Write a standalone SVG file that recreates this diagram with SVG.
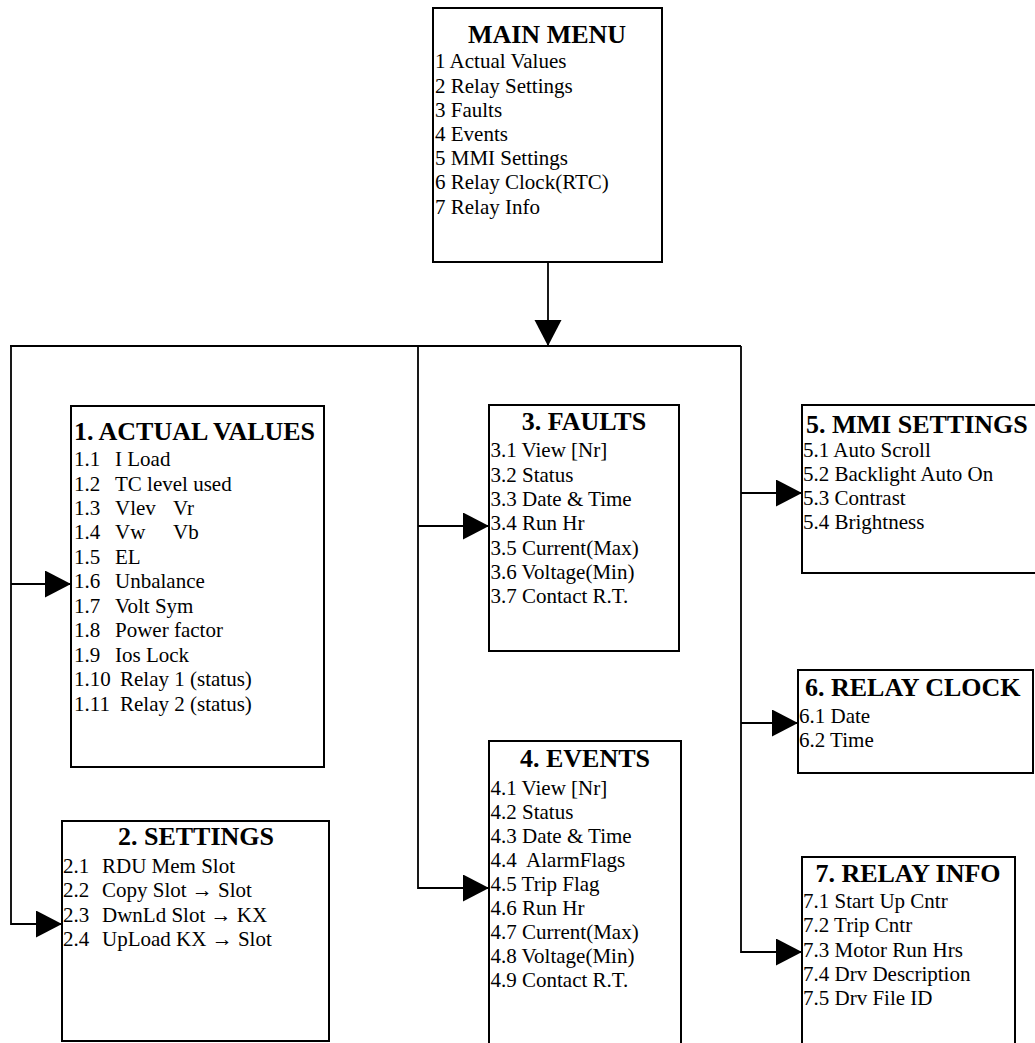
<svg xmlns="http://www.w3.org/2000/svg" width="1035" height="1043" viewBox="0 0 1035 1043">
<style>
.box{fill:#fff;stroke:#000;stroke-width:2}
.ln{fill:none;stroke:#000;stroke-width:1.8}
.t{font-family:"Liberation Serif","Times New Roman",serif;font-weight:bold;font-size:26px;fill:#000}
.i{font-family:"Liberation Serif","Times New Roman",serif;font-size:21px;fill:#000}
</style>
<defs>
<marker id="ah" markerUnits="userSpaceOnUse" markerWidth="27" markerHeight="28" refX="26" refY="13.5" orient="auto">
<path d="M0,0 L26,13.5 L0,27 Z" fill="#000"/>
</marker>
</defs>
<g id="connectors">
<path class="ln" d="M548,262 V346" marker-end="url(#ah)"/>
<path class="ln" d="M10,346 H741"/>
<path class="ln" d="M11,346 V924 H62" marker-end="url(#ah)"/>
<path class="ln" d="M11,584 H71" marker-end="url(#ah)"/>
<path class="ln" d="M418,346 V888 H489" marker-end="url(#ah)"/>
<path class="ln" d="M418,526 H489" marker-end="url(#ah)"/>
<path class="ln" d="M741,346 V952 H802" marker-end="url(#ah)"/>
<path class="ln" d="M741,493 H802" marker-end="url(#ah)"/>
<path class="ln" d="M741,723 H798" marker-end="url(#ah)"/>
</g>
<g id="main-menu">
<rect class="box" x="433" y="8" width="229" height="254"/>
<text class="t" x="547" y="43" text-anchor="middle">MAIN MENU</text>
<text class="i" x="435" y="68">1 Actual Values</text>
<text class="i" x="435" y="92.5">2 Relay Settings</text>
<text class="i" x="435" y="116.7">3 Faults</text>
<text class="i" x="435" y="141">4 Events</text>
<text class="i" x="435" y="165">5 MMI Settings</text>
<text class="i" x="435" y="189.3">6 Relay Clock(RTC)</text>
<text class="i" x="435" y="213.5">7 Relay Info</text>
</g>
<g id="actual-values">
<rect class="box" x="71" y="406" width="253" height="361"/>
<text class="t" x="74" y="440">1. ACTUAL VALUES</text>
<text class="i" x="74" y="466">1.1<tspan x="115">I Load</tspan></text>
<text class="i" x="74" y="490.5">1.2<tspan x="115">TC level used</tspan></text>
<text class="i" x="74" y="515">1.3<tspan x="115">Vlev</tspan><tspan x="173">Vr</tspan></text>
<text class="i" x="74" y="539.3">1.4<tspan x="115">Vw</tspan><tspan x="173">Vb</tspan></text>
<text class="i" x="74" y="563.5">1.5<tspan x="115">EL</tspan></text>
<text class="i" x="74" y="588">1.6<tspan x="115">Unbalance</tspan></text>
<text class="i" x="74" y="612.5">1.7<tspan x="115">Volt Sym</tspan></text>
<text class="i" x="74" y="637">1.8<tspan x="115">Power factor</tspan></text>
<text class="i" x="74" y="661.5">1.9<tspan x="115">Ios Lock</tspan></text>
<text class="i" x="74" y="686">1.10<tspan x="120">Relay 1 (status)</tspan></text>
<text class="i" x="74" y="710.5">1.11<tspan x="120">Relay 2 (status)</tspan></text>
</g>
<g id="settings">
<rect class="box" x="62" y="821" width="267" height="220"/>
<text class="t" x="196" y="845" text-anchor="middle">2. SETTINGS</text>
<text class="i" x="63" y="872.5">2.1<tspan x="102">RDU Mem Slot</tspan></text>
<text class="i" x="63" y="897">2.2<tspan x="102">Copy Slot → Slot</tspan></text>
<text class="i" x="63" y="921.5">2.3<tspan x="102">DwnLd Slot → KX</tspan></text>
<text class="i" x="63" y="945.7">2.4<tspan x="102">UpLoad KX → Slot</tspan></text>
</g>
<g id="faults">
<rect class="box" x="489" y="405" width="190" height="246"/>
<text class="t" x="584" y="430" text-anchor="middle">3. FAULTS</text>
<text class="i" x="490.5" y="456.7">3.1 View [Nr]</text>
<text class="i" x="490.5" y="481.5">3.2 Status</text>
<text class="i" x="490.5" y="505.7">3.3 Date &amp; Time</text>
<text class="i" x="490.5" y="530">3.4 Run Hr</text>
<text class="i" x="490.5" y="554.7">3.5 Current(Max)</text>
<text class="i" x="490.5" y="579">3.6 Voltage(Min)</text>
<text class="i" x="490.5" y="603.3">3.7 Contact R.T.</text>
</g>
<g id="events">
<rect class="box" x="489" y="741" width="192" height="320"/>
<text class="t" x="585" y="766.7" text-anchor="middle">4. EVENTS</text>
<text class="i" x="490.5" y="794.5">4.1 View [Nr]</text>
<text class="i" x="490.5" y="818.5">4.2 Status</text>
<text class="i" x="490.5" y="842.7">4.3 Date &amp; Time</text>
<text class="i" x="490.5" y="866.7" xml:space="preserve">4.4  AlarmFlags</text>
<text class="i" x="490.5" y="891">4.5 Trip Flag</text>
<text class="i" x="490.5" y="915">4.6 Run Hr</text>
<text class="i" x="490.5" y="939.3">4.7 Current(Max)</text>
<text class="i" x="490.5" y="963.3">4.8 Voltage(Min)</text>
<text class="i" x="490.5" y="987.3">4.9 Contact R.T.</text>
</g>
<g id="mmi-settings">
<rect class="box" x="802" y="405" width="240" height="168"/>
<text class="t" x="806" y="432.7">5. MMI SETTINGS</text>
<text class="i" x="803" y="456.7">5.1 Auto Scroll</text>
<text class="i" x="803" y="480.7">5.2 Backlight Auto On</text>
<text class="i" x="803" y="505">5.3 Contrast</text>
<text class="i" x="803" y="529.3">5.4 Brightness</text>
</g>
<g id="relay-clock">
<rect class="box" x="798" y="670" width="235" height="103"/>
<text class="t" x="805" y="696">6. RELAY CLOCK</text>
<text class="i" x="799" y="723.3">6.1 Date</text>
<text class="i" x="799" y="746.7">6.2 Time</text>
</g>
<g id="relay-info">
<rect class="box" x="802" y="857" width="213" height="210"/>
<text class="t" x="908" y="881.7" text-anchor="middle">7. RELAY INFO</text>
<text class="i" x="803" y="908.3">7.1 Start Up Cntr</text>
<text class="i" x="803" y="932.3">7.2 Trip Cntr</text>
<text class="i" x="803" y="956.7">7.3 Motor Run Hrs</text>
<text class="i" x="803" y="981">7.4 Drv Description</text>
<text class="i" x="803" y="1005">7.5 Drv File ID</text>
</g>
</svg>
